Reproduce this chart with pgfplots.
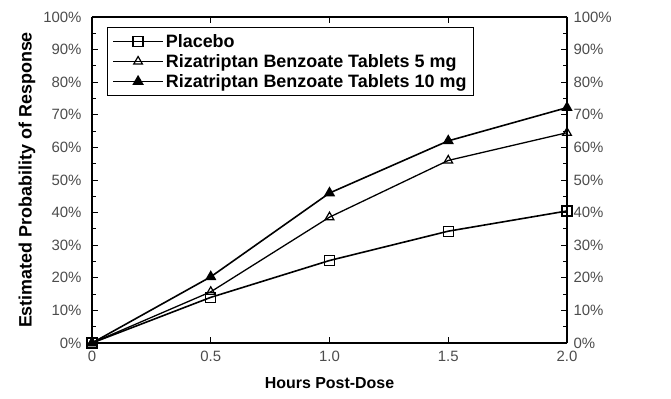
\documentclass[border=0pt]{standalone}
\usepackage{pgfplots}
\pgfplotsset{compat=1.18}
\usepackage{fontspec}
\setmainfont{Liberation Sans}
\begin{document}
\begin{tikzpicture}
\useasboundingbox (-92bp,-56bp) rectangle (579bp,343bp);
\begin{axis}[
  scale only axis, width=475bp, height=326bp,
  xmin=0, xmax=2, ymin=0, ymax=100,
  axis y line*=left,
  xtick={0,0.5,1,1.5,2},
  xticklabels={0,0.5,1.0,1.5,2.0},
  ytick={0,10,...,100},
  yticklabel={\pgfmathprintnumber{\tick}\%},
  minor y tick num=1,
  tick align=inside,
  major tick length=6bp, minor tick length=4bp,
  tick style={black, line width=1pt},
  axis line style={line width=1.3pt},
  ticklabel style={font=\fontsize{15}{17}\selectfont, text=black!70},
  yticklabel style={xshift=-7bp},
  xticklabel style={yshift=-5bp},
  /pgf/number format/assume math mode=true,
  xlabel={Hours Post-Dose},
  ylabel={Estimated Probability of Response},
  xlabel style={font=\fontsize{16}{18}\selectfont\bfseries, yshift=-9bp},
  ylabel style={font=\fontsize{18}{20}\selectfont\bfseries, yshift=1bp},
  legend style={at={(15bp,316bp)}, anchor=north west, draw=black, line width=0.6pt,
    font=\fontsize{18}{20}\selectfont\bfseries, row sep=1.5bp, inner xsep=5bp, inner ysep=5bp, cells={anchor=west}},
  legend image code/.code={\draw[#1] (0bp,0bp) -- (50bp,0bp); \draw[#1, mark repeat=2, mark phase=2] plot coordinates {(0bp,0bp) (25bp,0bp) (50bp,0bp)};},
]
\addplot[black, line width=1.6pt, mark=square, mark size=5bp, mark options={fill=white, line width=1.2pt}]
  coordinates {(0,0) (0.5,14) (1.0,25.3) (1.5,34.3) (2.0,40.5)};
\addplot[black, line width=1.3pt, mark=triangle, mark size=5bp, mark options={fill=white, line width=1.2pt}]
  coordinates {(0,0) (0.5,15.7) (1.0,38.6) (1.5,56) (2.0,64.5)};
\addplot[black, line width=1.6pt, mark=triangle*, mark size=5bp, mark options={fill=black}]
  coordinates {(0,0) (0.5,20.3) (1.0,46) (1.5,62) (2.0,72.2)};
\legend{Placebo, Rizatriptan Benzoate Tablets 5 mg, Rizatriptan Benzoate Tablets 10 mg}
\end{axis}
\begin{axis}[
  scale only axis, width=475bp, height=326bp,
  xmin=0, xmax=2, ymin=0, ymax=100,
  axis y line*=right, axis x line=none,
  ytick={0,10,...,100},
  yticklabel={\pgfmathprintnumber{\tick}\%},
  minor y tick num=1,
  tick align=inside,
  major tick length=6bp, minor tick length=4bp,
  tick style={black, line width=1pt},
  axis line style={line width=1.3pt},
  ticklabel style={font=\fontsize{15}{17}\selectfont, text=black!70},
  yticklabel style={xshift=3bp},
  /pgf/number format/assume math mode=true,
]
\end{axis}
\end{tikzpicture}
\end{document}
